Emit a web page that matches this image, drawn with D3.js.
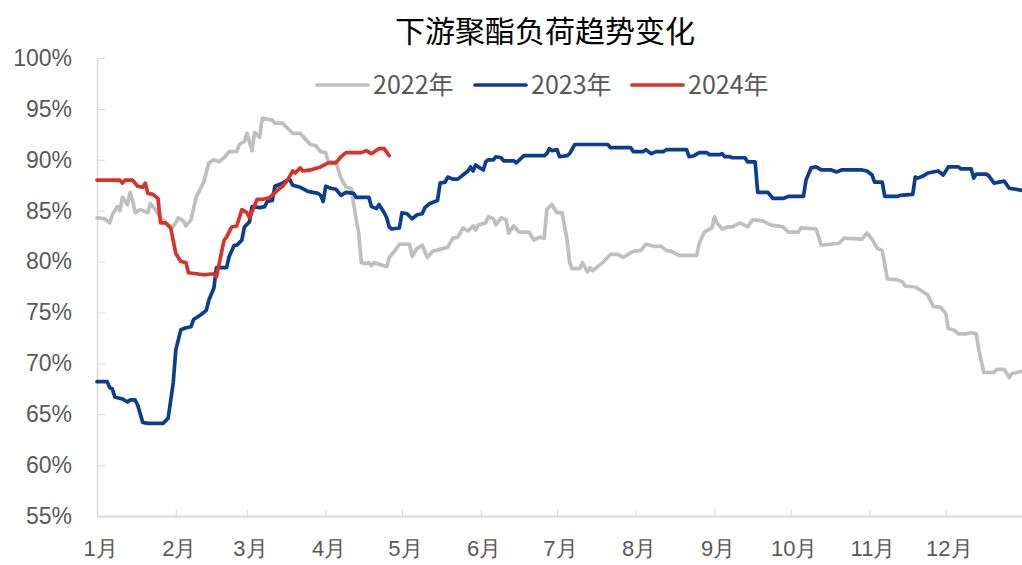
<!DOCTYPE html>
<html>
<head>
<meta charset="utf-8">
<script src="https://cdn.jsdelivr.net/npm/d3@7"></script>
<style>
  body { margin: 0; background: #fff; }
  svg { font-family: "Noto Sans CJK SC", "Noto Sans", sans-serif; }
  .axis text { fill: #595959; }
  .axis--x text { font-size: 22px; }
  .axis--y text { font-size: 23px; }
  .axis path, .axis line { stroke: #d9d9d9; }
</style>
</head>
<body>
<svg width="1022" height="565"></svg>
<script>
// 下游聚酯负荷 (%)
var load2022 = [
  ["01-01",84.3],["01-04",84.2],["01-06",83.8],["01-07",84.6],["01-09",85.4],["01-10",85.0],
  ["01-11",86.3],["01-13",85.6],["01-14",86.8],["01-15",86.0],["01-16",84.8],["01-18",85.1],
  ["01-21",84.8],["01-22",85.7],["01-24",85.1],["01-26",84.3],["01-29",83.6],["01-31",83.4],
  ["02-02",84.3],["02-04",84.0],["02-05",83.5],["02-07",84.1],["02-09",86.3],["02-12",87.8],
  ["02-14",89.7],["02-16",90.0],["02-18",89.8],["02-20",90.2],["02-22",90.8],["02-25",90.8],
  ["02-26",91.5],["02-28",91.8],["03-01",92.6],["03-03",90.9],["03-04",92.7],["03-06",92.2],
  ["03-07",94.1],["03-11",93.9],["03-12",93.6],["03-15",93.6],["03-17",93.1],["03-19",92.6],
  ["03-22",92.6],["03-23",92.3],["03-26",91.5],["03-28",91.4],["03-30",90.8],["04-01",90.7],
  ["04-02",89.8],["04-05",89.8],["04-06",89.0],["04-07",88.2],["04-09",87.3],["04-11",87.2],
  ["04-13",84.1],["04-14",82.8],["04-15",79.9],["04-17",79.8],["04-18",79.9],["04-19",79.6],
  ["04-20",79.9],["04-25",79.5],["04-26",80.4],["04-28",81.0],["04-30",81.7],["05-04",81.7],
  ["05-05",80.5],["05-07",81.3],["05-09",81.6],["05-11",80.4],["05-13",81.0],["05-16",81.2],
  ["05-19",81.4],["05-21",82.3],["05-23",82.4],["05-25",83.3],["05-27",83.0],["05-29",83.5],
  ["05-30",83.1],["05-31",83.6],["06-03",83.8],["06-04",84.4],["06-06",84.2],["06-07",83.6],
  ["06-09",84.3],["06-11",84.1],["06-12",82.8],["06-14",83.5],["06-16",82.9],["06-20",82.9],
  ["06-22",82.1],["06-24",82.4],["06-26",82.3],["06-27",85.1],["06-29",85.6],["07-01",84.8],
  ["07-03",84.8],["07-05",82.1],["07-06",79.9],["07-07",79.3],["07-10",79.3],["07-11",79.9],
  ["07-13",79.0],["07-14",79.4],["07-15",79.1],["07-17",79.5],["07-19",79.9],["07-22",80.7],
  ["07-25",80.7],["07-27",80.4],["07-29",80.7],["07-31",81.0],["08-03",81.1],["08-05",81.7],
  ["08-08",81.5],["08-11",81.5],["08-13",81.1],["08-15",81.0],["08-18",80.6],["08-25",80.6],
  ["08-26",81.8],["08-28",82.9],["08-31",83.3],["09-01",84.4],["09-02",83.8],["09-04",83.2],
  ["09-06",83.4],["09-08",83.4],["09-11",83.8],["09-14",83.4],["09-16",84.1],["09-20",84.0],
  ["09-23",83.6],["09-28",83.4],["09-30",82.9],["10-04",82.9],["10-05",83.3],["10-11",83.2],
  ["10-13",81.6],["10-20",81.8],["10-22",82.3],["10-29",82.2],["10-31",82.8],["11-02",82.2],
  ["11-04",81.3],["11-06",81.1],["11-08",78.3],["11-12",78.2],["11-14",78.0],["11-15",77.6],
  ["11-19",77.5],["11-21",77.2],["11-24",76.7],["11-26",75.6],["11-29",75.5],["12-01",74.9],
  ["12-02",73.4],["12-04",73.3],["12-06",72.9],["12-09",72.9],["12-11",73.0],["12-13",72.9],
  ["12-14",71.3],["12-16",69.1],["12-20",69.1],["12-21",69.4],["12-24",69.4],["12-26",68.6],
  ["12-27",69.0],["12-31",69.2]
];

var load2023 = [
  ["01-01",68.2],["01-05",68.2],["01-06",67.6],["01-07",67.5],["01-08",66.7],["01-11",66.5],
  ["01-13",66.2],["01-14",66.4],["01-16",66.4],["01-17",65.9],["01-19",64.2],["01-21",64.1],
  ["01-27",64.1],["01-29",64.6],["01-31",68.1],["02-01",71.3],["02-03",73.3],["02-05",73.5],
  ["02-07",73.6],["02-08",74.3],["02-11",74.8],["02-13",75.2],["02-14",76.2],["02-16",77.4],
  ["02-17",79.4],["02-21",79.4],["02-22",80.5],["02-24",81.6],["02-25",81.6],["02-27",82.1],
  ["02-28",83.4],["03-02",83.9],["03-03",85.4],["03-06",85.3],["03-08",85.4],["03-09",85.9],
  ["03-11",86.0],["03-12",87.4],["03-13",87.5],["03-15",87.7],["03-17",88.0],["03-18",88.0],
  ["03-19",87.5],["03-22",87.3],["03-25",86.9],["03-29",86.7],["03-30",86.5],["03-31",85.9],
  ["04-01",87.4],["04-03",87.2],["04-05",87.1],["04-07",86.5],["04-09",86.8],["04-12",86.7],
  ["04-13",86.3],["04-18",86.3],["04-19",85.4],["04-21",85.2],["04-22",85.6],["04-24",84.8],
  ["04-25",84.3],["04-26",83.4],["04-27",83.2],["04-30",83.3],["05-01",84.8],["05-03",84.7],
  ["05-05",84.2],["05-07",84.6],["05-09",84.7],["05-10",85.3],["05-12",85.7],["05-15",86.0],
  ["05-16",87.7],["05-18",87.8],["05-19",88.3],["05-21",88.1],["05-23",88.1],["05-25",88.5],
  ["05-27",88.9],["05-28",89.3],["05-29",88.9],["05-30",89.5],["05-31",89.3],["06-02",89.0],
  ["06-03",89.8],["06-04",90.0],["06-06",90.0],["06-07",90.3],["06-09",90.2],["06-10",89.9],
  ["06-14",89.9],["06-15",89.7],["06-18",90.4],["06-26",90.4],["06-27",90.6],["06-28",91.1],
  ["06-29",90.9],["07-01",91.0],["07-02",90.3],["07-05",90.4],["07-06",90.6],["07-08",91.5],
  ["07-21",91.5],["07-22",91.2],["07-30",91.2],["07-31",90.8],["08-04",90.8],["08-05",91.0],
  ["08-07",90.6],["08-09",90.8],["08-12",90.8],["08-13",91.0],["08-21",91.0],["08-22",90.3],
  ["08-24",90.4],["08-26",90.7],["08-29",90.7],["08-30",90.5],["09-03",90.5],["09-04",90.6],
  ["09-05",90.3],["09-07",90.3],["09-08",90.2],["09-13",90.2],["09-14",89.8],["09-17",89.8],
  ["09-18",86.8],["09-22",86.8],["09-24",86.2],["09-28",86.2],["09-30",86.4],["10-06",86.4],
  ["10-07",88.0],["10-09",89.2],["10-11",89.3],["10-13",89.0],["10-17",89.0],["10-19",88.8],
  ["10-21",89.0],["10-29",89.0],["10-31",88.9],["11-02",88.5],["11-03",87.8],["11-06",87.8],
  ["11-07",86.4],["11-12",86.4],["11-13",86.5],["11-18",86.6],["11-19",88.3],["11-20",88.2],
  ["11-22",88.4],["11-24",88.7],["11-26",88.8],["11-28",88.9],["11-30",88.5],["12-02",89.3],
  ["12-06",89.3],["12-07",89.1],["12-11",89.1],["12-12",88.2],["12-13",88.6],["12-17",88.6],
  ["12-18",88.4],["12-20",87.7],["12-24",87.9],["12-26",87.2],["12-31",87.0]
];

var load2024 = [
  ["01-01",88.0],["01-10",88.0],["01-11",87.7],["01-12",88.0],["01-15",88.0],["01-17",87.4],
  ["01-19",87.3],["01-20",87.7],["01-21",86.7],["01-23",86.6],["01-25",86.2],["01-26",83.8],
  ["01-28",83.8],["01-30",83.3],["02-01",80.8],["02-03",80.0],["02-05",79.9],["02-06",78.9],
  ["02-12",78.7],["02-16",78.8],["02-17",78.5],["02-20",82.1],["02-21",82.4],["02-23",83.4],
  ["02-25",83.5],["02-27",85.1],["03-01",84.8],["03-02",84.3],["03-05",86.1],["03-07",86.1],
  ["03-10",86.3],["03-13",87.0],["03-15",87.4],["03-17",88.0],["03-19",88.9],["03-20",88.7],
  ["03-22",89.2],["03-23",88.9],["03-26",89.0],["03-30",89.3],["04-02",89.7],["04-05",89.7],
  ["04-07",90.3],["04-09",90.7],["04-15",90.7],["04-17",90.9],["04-19",90.6],["04-22",91.1],
  ["04-24",91.1],["04-26",90.4]
];

var seriesNames = ["2022年", "2023年", "2024年"];
var seriesColors = ["#bfbfbf", "#0b3d91", "#d7332a"];
var yTicks = [55, 60, 65, 70, 75, 80, 85, 90, 95, 100];
var monthStarts = ["01-01","02-01","03-01","04-01","05-01","06-01","07-01","08-01","09-01","10-01","11-01","12-01"];

var svg = d3.select("svg"),
    margin = {top: 58, right: 0, bottom: 49, left: 97},
    width = +svg.attr("width") - margin.left - margin.right,
    height = +svg.attr("height") - margin.top - margin.bottom;

var parseDay = function(s) { return d3.timeParse("%Y-%m-%d")("2023-" + s); };

var x = d3.scaleTime()
    .domain([parseDay("01-01"), parseDay("12-31")])
    .range([0, width]);
var y = d3.scaleLinear().domain([55, 100]).range([height, 0]);

var g = svg.append("g")
    .attr("transform", "translate(" + margin.left + "," + margin.top + ")");

svg.append("text")
    .attr("x", 545)
    .attr("y", 31)
    .attr("dy", "0.35em")
    .attr("text-anchor", "middle")
    .attr("font-size", "30px")
    .attr("fill", "#000")
    .text("下游聚酯负荷趋势变化");

g.append("g")
    .attr("class", "axis axis--y")
    .call(d3.axisLeft(y).tickValues(yTicks).tickSizeInner(-8).tickSizeOuter(0).tickPadding(25)
      .tickFormat(function(d) { return d + "%"; }))
    .call(function(a) { a.select(".domain").attr("stroke-width", 1.5); });

g.append("g")
    .attr("class", "axis axis--x")
    .attr("transform", "translate(0," + height + ")")
    .call(d3.axisBottom(x).tickValues(monthStarts.map(parseDay)).tickSizeInner(-6).tickSizeOuter(0)
      .tickPadding(24).tickFormat(d3.timeFormat("%-m月")))
    .call(function(a) {
      a.select(".domain").attr("stroke-width", 2);
      a.selectAll("text").attr("dx", "3px");
    });

var line = d3.line()
    .x(function(d) { return x(parseDay(d[0])); })
    .y(function(d) { return y(d[1]); });

[load2022, load2023, load2024].forEach(function(data, i) {
  g.append("path")
      .datum(data)
      .attr("fill", "none")
      .attr("stroke", seriesColors[i])
      .attr("stroke-width", 3.7)
      .attr("stroke-linejoin", "round")
      .attr("stroke-linecap", "round")
      .attr("d", line);
});

// legend
var legendX = [317, 475, 632];
var legend = svg.append("g").attr("class", "legend");
seriesNames.forEach(function(name, i) {
  legend.append("line")
      .attr("x1", legendX[i]).attr("x2", legendX[i] + 51)
      .attr("y1", 85).attr("y2", 85)
      .attr("stroke", seriesColors[i])
      .attr("stroke-width", 3.7)
      .attr("stroke-linecap", "round");
  legend.append("text")
      .attr("x", legendX[i] + 56)
      .attr("y", 85)
      .attr("dy", "0.35em")
      .attr("font-size", "25px")
      .attr("fill", "#595959")
      .text(name);
});
</script>
</body>
</html>
